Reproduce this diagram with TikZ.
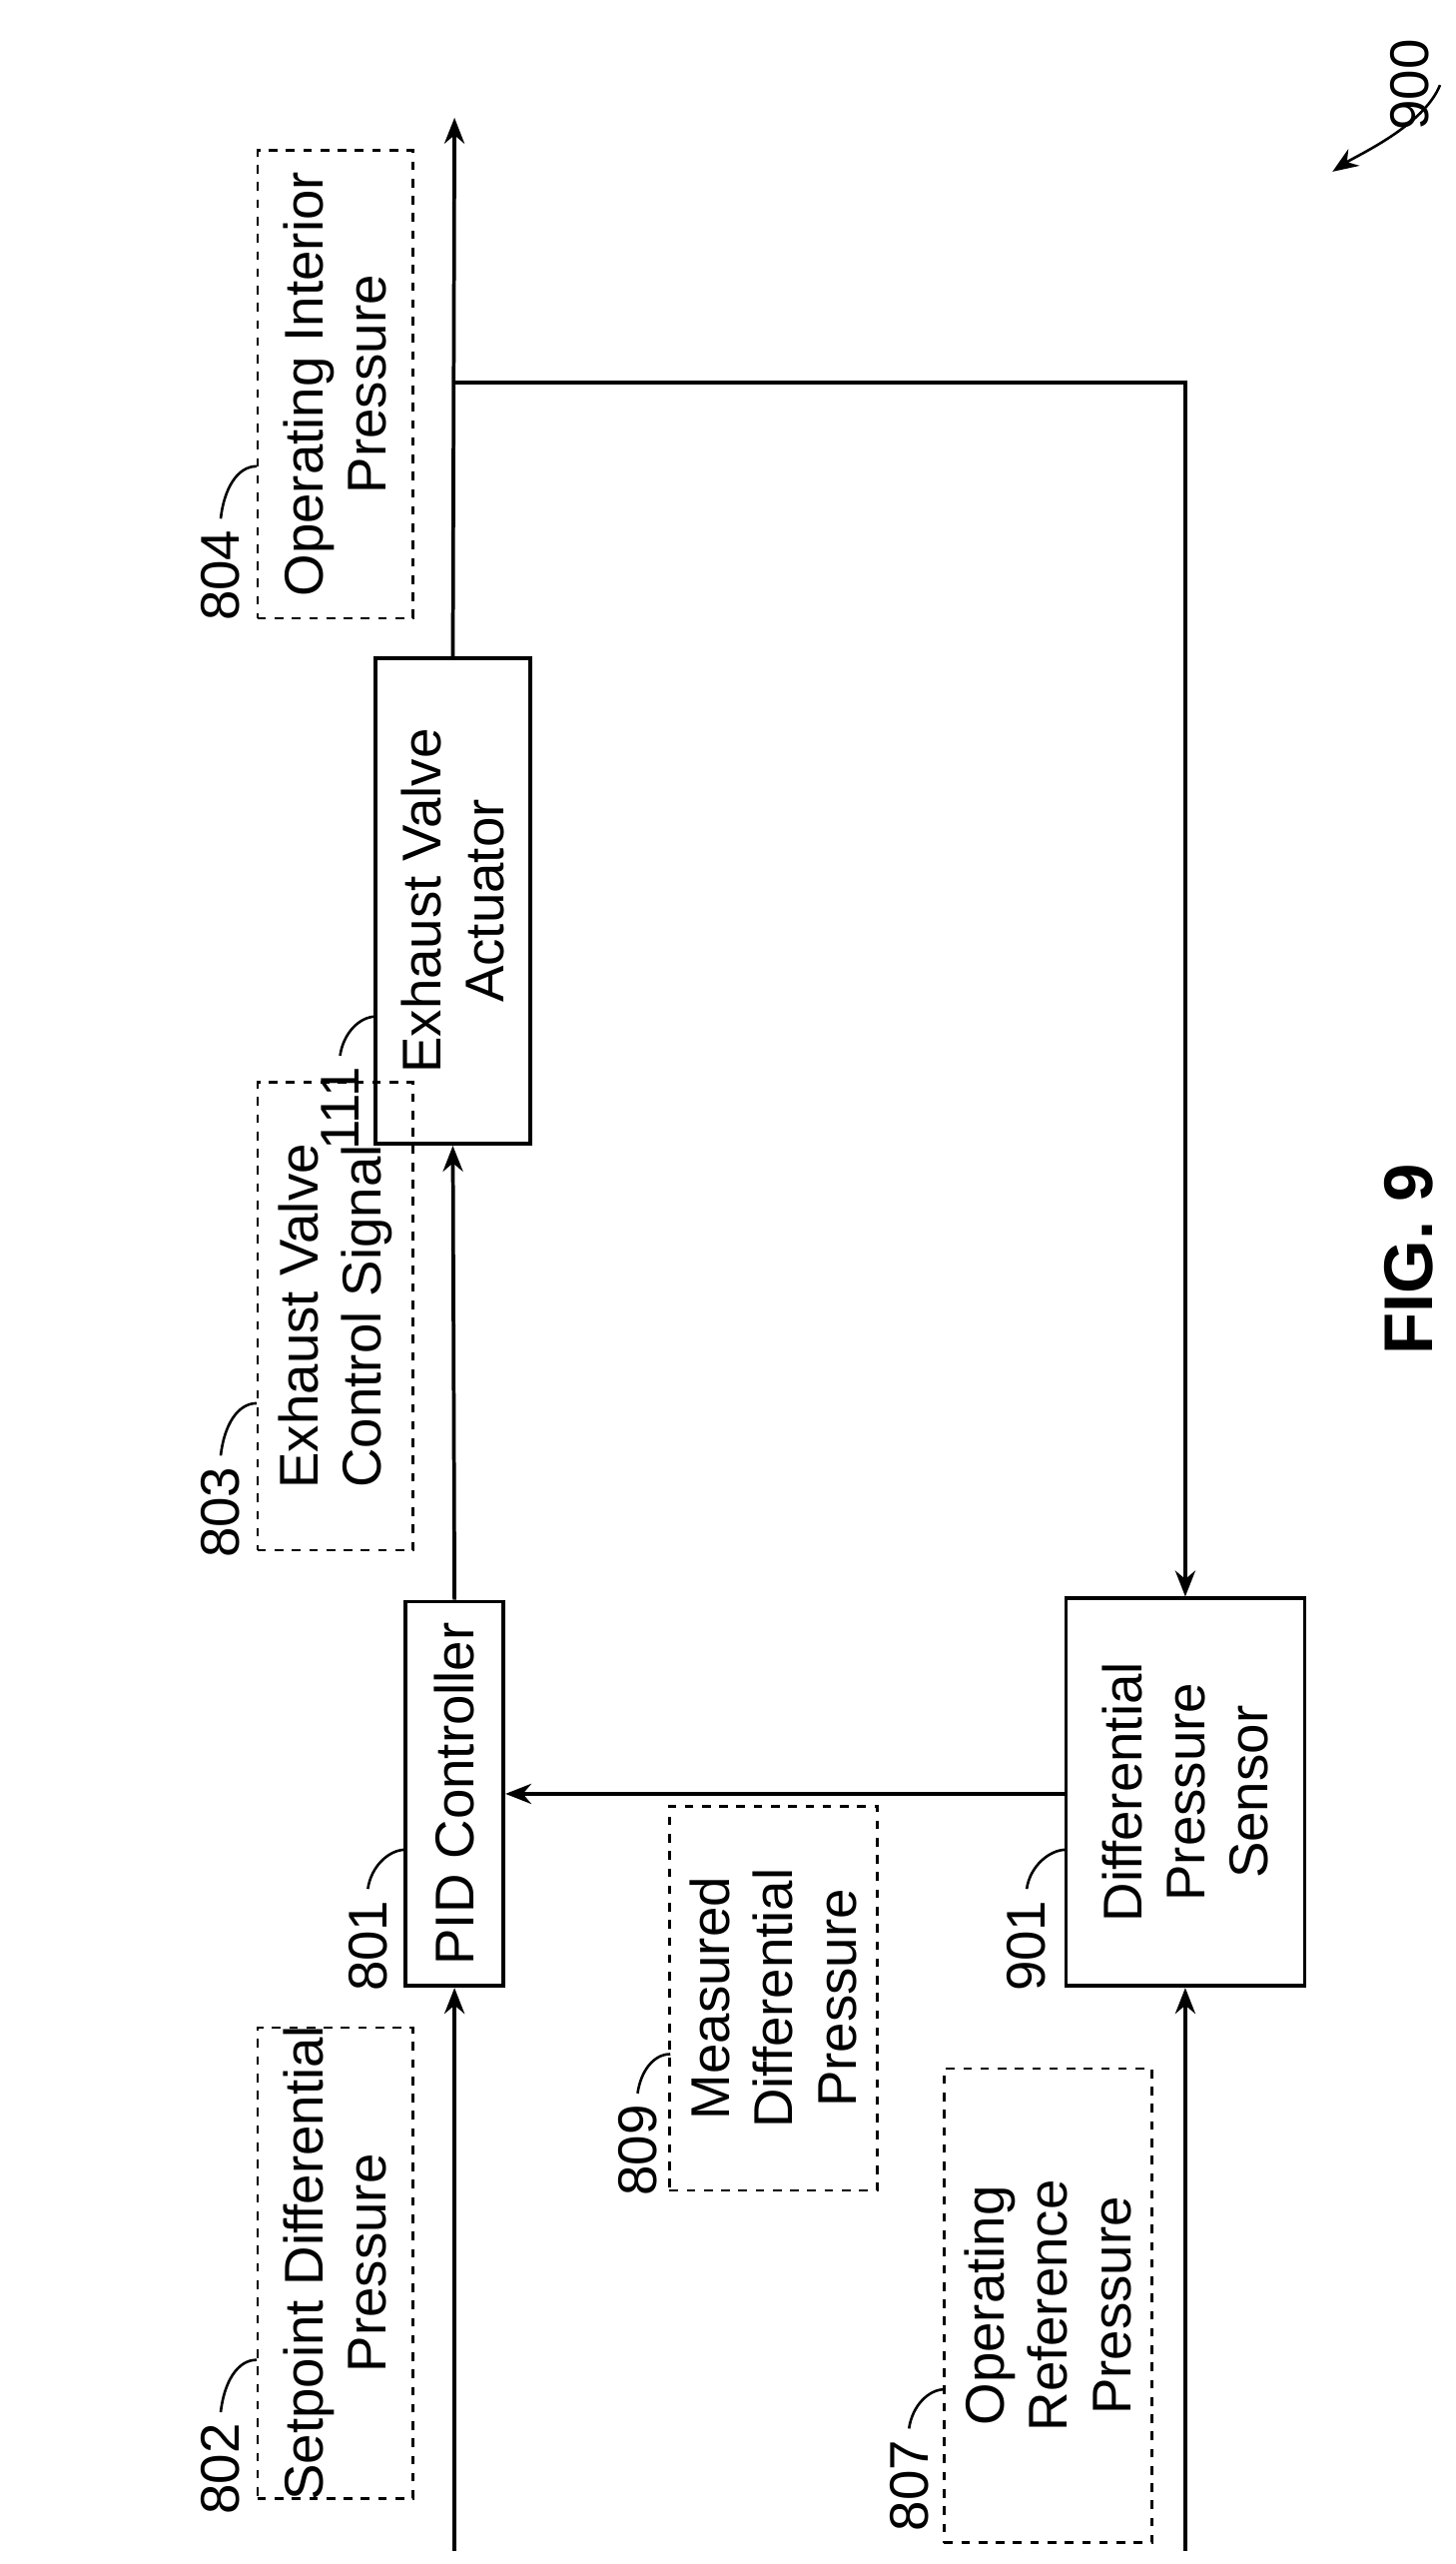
\documentclass[tikz,border=0pt]{standalone}
\usepackage{fontspec}
\setmainfont{Liberation Sans}
\usetikzlibrary{arrows.meta}
\begin{document}
\begin{tikzpicture}[x=0.02cm,y=-0.02cm,line width=1.3pt,>={Stealth[length=9pt,width=7pt]},
  box/.style={draw,minimum width=0,inner sep=0},
  txt/.style={rotate=90,align=center,font=\fontsize{19}{22}\selectfont},
  num/.style={rotate=90,font=\fontsize{19}{22}\selectfont},
  lead/.style={line width=0.9pt}]
\useasboundingbox (0,0) rectangle (890,1568);
% blocks
\node[box,minimum width=60*0.02cm,minimum height=235*0.02cm] (pid) at (278,1097) {};
\node[txt] at (pid) {PID Controller};
\node[box,minimum width=95*0.02cm,minimum height=297*0.02cm] (eva) at (277,551) {};
\node[txt] at (eva) {Exhaust Valve\\Actuator};
\node[box,minimum width=146*0.02cm,minimum height=237*0.02cm] (dps) at (725,1096) {};
\node[txt] at (dps) {Differential\\Pressure\\Sensor};
% dashed signal boxes
\node[box,dashed,line width=0.9pt,minimum width=95*0.02cm,minimum height=288*0.02cm] (s802) at (205,1384) {};
\node[txt] at (s802) {Setpoint Differential\\Pressure};
\node[box,dashed,line width=0.9pt,minimum width=95*0.02cm,minimum height=286*0.02cm] (s803) at (205,805) {};
\node[txt] at (s803) {Exhaust Valve\\Control Signal};
\node[box,dashed,line width=0.9pt,minimum width=95*0.02cm,minimum height=286*0.02cm] (s804) at (205,235) {};
\node[txt] at (s804) {Operating Interior\\Pressure};
\node[box,dashed,line width=0.9pt,minimum width=127*0.02cm,minimum height=235*0.02cm] (s809) at (473,1222) {};
\node[txt] at (s809) {Measured\\Differential\\Pressure};
\node[box,dashed,line width=0.9pt,minimum width=127*0.02cm,minimum height=290*0.02cm] (s807) at (641,1410) {};
\node[txt] at (s807) {Operating\\Reference\\Pressure};
% signal lines
\coordinate (in1) at (278,1560);
\coordinate (in2) at (725,1560);
\coordinate (out) at (278,72);
\coordinate (br) at (278,234);
\coordinate (brr) at (725,234);
\draw[->] (in1) -- (pid.south);
\draw[->] (pid.north) -- (eva.south);
\draw[->] (eva.north) -- (out);
\draw[->] (br) -- (brr) -- (dps.north);
\draw[->] (in2) -- (dps.south);
\draw[->] (dps.west |- 0,1097) -- (pid.east |- 0,1097);
% reference numerals
\node[num] (l802) at (135,1510) {802};
\node[num] (l803) at (135,925) {803};
\node[num] (l804) at (135,352) {804};
\node[num] (l111) at (208,678) {111};
\node[num] (l801) at (225,1190) {801};
\node[num] (l809) at (390,1315) {809};
\node[num] (l901) at (628,1190) {901};
\node[num] (l807) at (556,1520) {807};
\draw[lead] (l802.east) .. controls +(2,-18) and +(-12,0) .. +(22,-32);
\draw[lead] (l803.east) .. controls +(2,-18) and +(-12,0) .. +(22,-32);
\draw[lead] (l804.east) .. controls +(2,-18) and +(-12,0) .. +(22,-32);
\draw[lead] (l111.east) .. controls +(2,-14) and +(-10,0) .. +(22,-24);
\draw[lead] (l801.east) .. controls +(2,-14) and +(-10,0) .. +(23,-24);
\draw[lead] (l809.east) .. controls +(2,-14) and +(-10,0) .. +(20,-24);
\draw[lead] (l901.east) .. controls +(2,-14) and +(-10,0) .. +(24,-24);
\draw[lead] (l807.east) .. controls +(2,-14) and +(-10,0) .. +(22,-24);
% figure number
\node[num] (l900) at (862,52) {900};
\draw[lead,->] (l900.south) .. controls +(-10,25) and +(15,-10) .. (815,105);
\node[num,font=\fontsize{24}{28}\selectfont\bfseries] (fig) at (862,770) {FIG. 9};
\end{tikzpicture}
\end{document}
